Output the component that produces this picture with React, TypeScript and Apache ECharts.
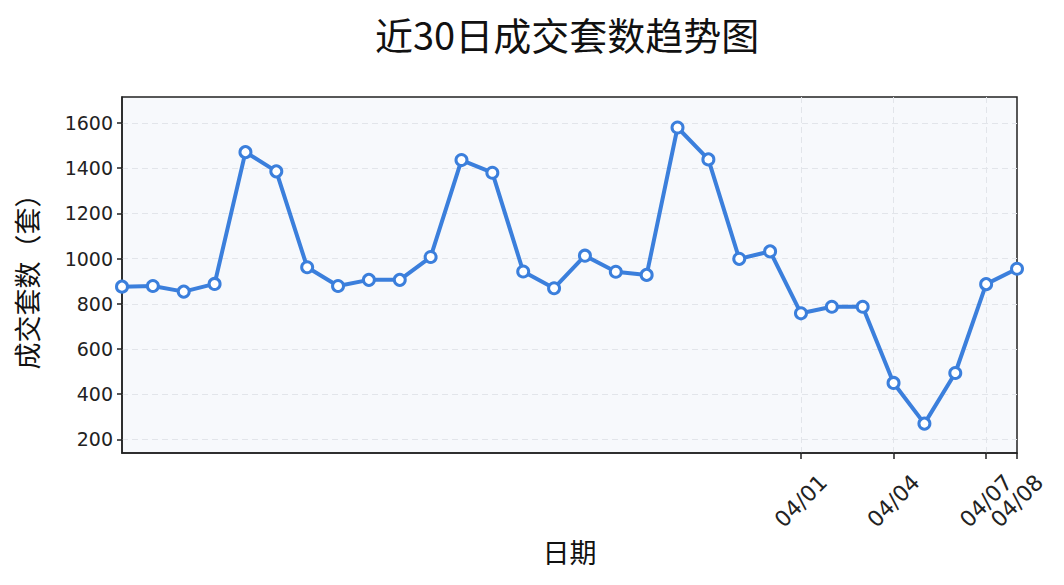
import React, { useEffect, useRef } from "react";
import * as echarts from "echarts";

const dates = [
  "03/10", "03/11", "03/12", "03/13", "03/14", "03/15", "03/16", "03/17", "03/18", "03/19",
  "03/20", "03/21", "03/22", "03/23", "03/24", "03/25", "03/26", "03/27", "03/28", "03/29",
  "03/30", "03/31", "04/01", "04/02", "04/03", "04/04", "04/05", "04/06", "04/07", "04/08",
];
const deals = [
  876, 879, 854, 888, 1471, 1386, 962, 879, 906, 906,
  1007, 1436, 1380, 943, 869, 1013, 942, 928, 1580, 1439,
  999, 1032, 758, 787, 787, 450, 270, 494, 887, 955,
];
const shownDates = ["04/01", "04/04", "04/07", "04/08"];
const yTicks = [200, 400, 600, 800, 1000, 1200, 1400, 1600];

const titleText = "近30日成交套数趋势图";
const xName = "日期";
const yName = "成交套数（套）";

export default function App() {
  const ref = useRef<HTMLDivElement>(null);
  useEffect(() => {
    if (!ref.current) return;
    const chart = echarts.init(ref.current, null, { renderer: "svg" });
    const showIdx = (i: number) => shownDates.includes(dates[i]);
    const gridIdx = (i: number) => showIdx(i) && i !== dates.length - 1;
    const lineColor = "#3b7fdc";
    const cjk = "'Noto Sans CJK SC', 'Noto Sans', sans-serif";
    const num = "'DejaVu Sans', sans-serif";
    chart.setOption({
      animation: false,
      backgroundColor: "#ffffff",
      title: {
        text: titleText,
        left: 370,
        top: 9,
        textStyle: { fontFamily: cjk, fontSize: 38, fontWeight: "normal", color: "#111" },
      },
      grid: {
        left: 122,
        right: 47,
        top: 97,
        bottom: 132,
        show: true,
        backgroundColor: "#f7f9fc",
        borderColor: "#222",
        borderWidth: 1.5,
      },
      xAxis: {
        type: "category",
        data: dates,
        boundaryGap: false,
        name: xName,
        nameLocation: "middle",
        nameGap: 84,
        nameTextStyle: { fontFamily: cjk, fontSize: 27, color: "#111" },
        axisLine: { show: true, lineStyle: { color: "#222", width: 1.5 } },
        axisTick: { show: true, interval: showIdx, length: 6, lineStyle: { color: "#222", width: 1.5 } },
        axisLabel: {
          interval: showIdx,
          rotate: 45,
          align: "center",
          verticalAlign: "middle",
          margin: 48,
          fontFamily: num,
          fontSize: 22,
          color: "#222",
          hideOverlap: false,
          showMaxLabel: true,
        },
        splitLine: {
          show: true,
          interval: gridIdx,
          lineStyle: { color: "#e2e5ea", type: [6, 4], width: 1 },
        },
      },
      yAxis: {
        type: "value",
        min: 140,
        max: 1715,
        name: yName,
        nameLocation: "middle",
        nameGap: 82,
        nameTextStyle: { fontFamily: cjk, fontSize: 27, color: "#111" },
        axisLine: { show: true, lineStyle: { color: "#222", width: 1.5 } },
        axisTick: { show: true, customValues: yTicks, length: 5, lineStyle: { color: "#222", width: 1.5 } },
        axisLabel: {
          customValues: yTicks,
          formatter: (v: number) => String(v),
          margin: 9,
          fontFamily: num,
          fontSize: 19,
          color: "#222",
        },
        splitLine: {
          show: true,
          lineStyle: { color: "#e2e5ea", type: [6, 4], width: 1 },
        },
      },
      series: [
        {
          type: "line",
          data: deals,
          color: lineColor,
          lineStyle: { color: lineColor, width: 4 },
          symbol: "circle",
          symbolSize: 11,
          showAllSymbol: true,
          itemStyle: { color: "#ffffff", borderColor: lineColor, borderWidth: 3 },
          clip: true,
        },
      ],
    });
    return () => chart.dispose();
  }, []);
  return (
    <div
      ref={ref}
      style={{ position: "fixed", left: 0, top: 0, width: 1064, height: 585 }}
    />
  );
}
